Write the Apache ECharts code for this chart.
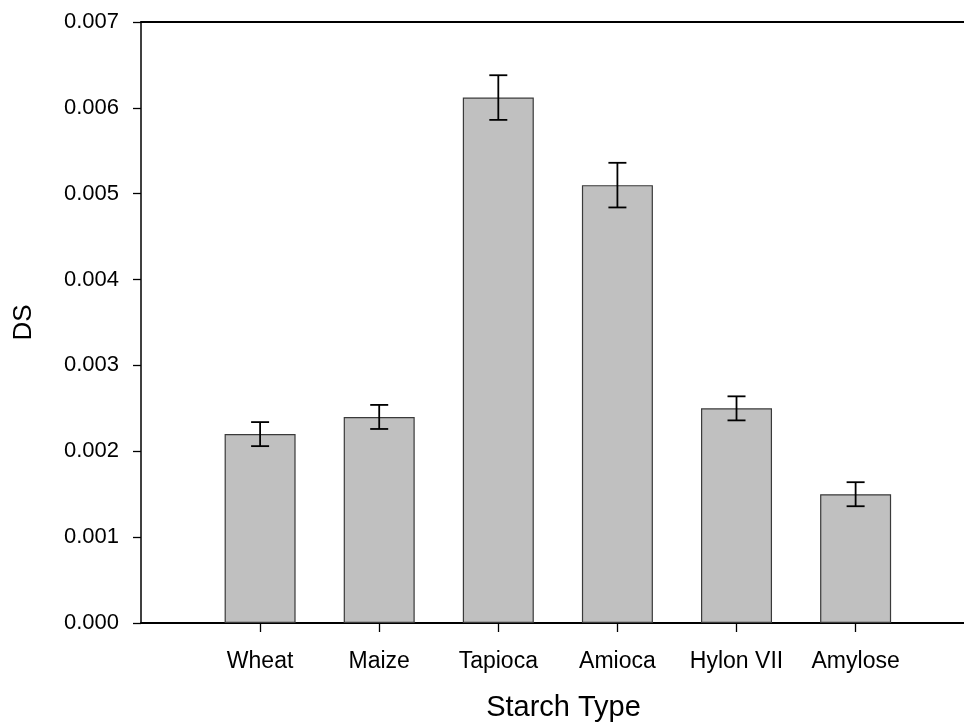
<!DOCTYPE html>
<html>
<head>
<meta charset="utf-8">
<script src="https://cdn.jsdelivr.net/npm/echarts@6/dist/echarts.min.js"></script>
<style>
  html, body { margin: 0; padding: 0; background: #fff; }
  #chart { width: 964px; height: 723px; }
</style>
</head>
<body>
<div id="chart"></div>
<script>
// Degree of substitution by starch type (mean ± error)
const categories = ['Wheat', 'Maize', 'Tapioca', 'Amioca', 'Hylon VII', 'Amylose'];
const dsMean = [0.0022, 0.0024, 0.00612, 0.0051, 0.0025, 0.0015];
const dsError = [0.00014, 0.00014, 0.00026, 0.00026, 0.00014, 0.00014];
const yTicks = [0, 0.001, 0.002, 0.003, 0.004, 0.005, 0.006, 0.007];

const FONT = '"Liberation Sans", Arial, sans-serif';
const positions = categories.map((_, i) => i + 1);

const barData = positions.map((p, i) => [p, dsMean[i]]);
const errData = positions.map((p, i) => [p, dsMean[i] - dsError[i], dsMean[i] + dsError[i]]);

const chart = echarts.init(document.getElementById('chart'));
chart.setOption({
  animation: false,
  backgroundColor: '#ffffff',
  grid: { left: 141, right: 0, top: 22, bottom: 100, containLabel: false, outerBoundsMode: 'none' },
  xAxis: [{
    type: 'value',
    min: 0,
    max: 6.91,
    position: 'bottom',
    splitLine: { show: false },
    axisLine: { show: true, lineStyle: { color: '#000', width: 1.8 } },
    axisTick: { show: true, inside: false, length: 9, customValues: positions, lineStyle: { color: '#000', width: 1.3 } },
    axisLabel: {
      customValues: positions,
      formatter: v => categories[Math.round(v) - 1] || '',
      color: '#000', fontFamily: FONT, fontSize: 23, margin: 27
    },
    name: 'Starch Type',
    nameLocation: 'middle',
    nameGap: 70,
    nameTextStyle: { color: '#000', fontFamily: FONT, fontSize: 29, padding: [0, 0, 0, 22] }
  }, {
    type: 'value',
    min: 0,
    max: 6.91,
    position: 'top',
    splitLine: { show: false },
    axisLine: { show: true, lineStyle: { color: '#000', width: 1.8 } },
    axisTick: { show: false },
    axisLabel: { show: false }
  }],
  yAxis: {
    type: 'value',
    min: yTicks[0],
    max: yTicks[yTicks.length - 1],
    interval: 0.001,
    splitLine: { show: false },
    axisLine: { show: true, lineStyle: { color: '#000', width: 1.5 } },
    axisTick: { show: true, inside: false, length: 8, lineStyle: { color: '#000', width: 1.3 } },
    axisLabel: {
      formatter: v => v.toFixed(3),
      color: '#000', fontFamily: FONT, fontSize: 22, margin: 22
    },
    name: 'DS',
    nameLocation: 'middle',
    nameGap: 104,
    nameTextStyle: { color: '#000', fontFamily: FONT, fontSize: 26 }
  },
  series: [{
    type: 'bar',
    data: barData,
    barWidth: 71,
    itemStyle: { color: '#c0c0c0', borderColor: '#3a3a3a', borderWidth: 1.2 },
    z: 2
  }, {
    type: 'custom',
    data: errData,
    z: 3,
    renderItem: function (params, api) {
      const x = api.value(0);
      const lo = api.coord([x, api.value(1)]);
      const hi = api.coord([x, api.value(2)]);
      const cap = 9;
      const style = { stroke: '#000', lineWidth: 1.8 };
      return {
        type: 'group',
        children: [
          { type: 'line', shape: { x1: lo[0], y1: lo[1], x2: hi[0], y2: hi[1] }, style },
          { type: 'line', shape: { x1: lo[0] - cap, y1: lo[1], x2: lo[0] + cap, y2: lo[1] }, style },
          { type: 'line', shape: { x1: hi[0] - cap, y1: hi[1], x2: hi[0] + cap, y2: hi[1] }, style }
        ]
      };
    }
  }]
});
</script>
</body>
</html>
